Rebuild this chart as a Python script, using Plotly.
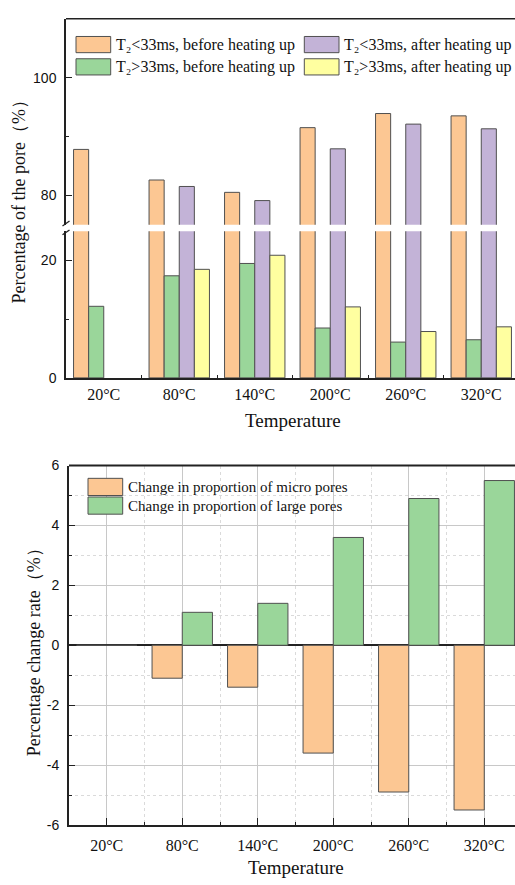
import plotly.graph_objects as go

# ---------------- data ----------------
categories = ["20°C", "80°C", "140°C", "200°C", "260°C", "320°C"]
t2_small_before = [87.8, 82.6, 80.5, 91.5, 93.9, 93.5]
t2_large_before = [12.2, 17.4, 19.5, 8.5, 6.1, 6.5]
t2_small_after = [None, 81.5, 79.1, 87.9, 92.1, 91.3]
t2_large_after = [None, 18.5, 20.9, 12.1, 7.9, 8.7]
micro_change = [0, -1.1, -1.4, -3.6, -4.9, -5.5]
large_change = [0, 1.1, 1.4, 3.6, 4.9, 5.5]
y3_ticks = [-6, -4, -2, 0, 2, 4, 6]

top_names = [
    "T₂&lt;33ms, before heating up",
    "T₂&gt;33ms, before heating up",
    "T₂&lt;33ms, after heating up",
    "T₂&gt;33ms, after heating up",
]
bottom_names = [
    "Change in proportion of micro pores",
    "Change in proportion of large pores",
]

# ---------------- style ----------------
W, H = 515, 885
ORANGE = "#FCC793"
GREEN = "#9AD69A"
PURPLE = "#C3B3D7"
YELLOW = "#FFFFA0"
EDGE = "#505050"
AX = "#222222"
SERIF = "Liberation Serif"
SANS = "Liberation Sans"


def px(x):
    return x / W


def py(y):
    return 1 - y / H


xs = list(range(len(categories)))
bounds = [i + 0.5 for i in xs[:-1]]

fig = go.Figure()

top_series = [
    (top_names[0], t2_small_before, ORANGE),
    (top_names[1], t2_large_before, GREEN),
    (top_names[2], t2_small_after, PURPLE),
    (top_names[3], t2_large_after, YELLOW),
]
for yax in ["y", "y2"]:
    for name, vals, col in top_series:
        fig.add_trace(go.Bar(
            x=xs, y=vals, xaxis="x", yaxis=yax, name=name, showlegend=False,
            marker=dict(color=col, line=dict(color=EDGE, width=1)),
        ))

for name, vals, col in [(bottom_names[0], micro_change, ORANGE),
                        (bottom_names[1], large_change, GREEN)]:
    fig.add_trace(go.Bar(
        x=xs, y=vals, xaxis="x2", yaxis="y3", name=name, showlegend=False,
        marker=dict(color=col, line=dict(color=EDGE, width=1)),
    ))

num_font = dict(family=SANS, size=14, color="#111")
cat_font = dict(family=SERIF, size=16, color="#111")

fig.update_layout(
    width=W, height=H,
    margin=dict(l=0, r=0, t=0, b=0),
    paper_bgcolor="white", plot_bgcolor="white",
    showlegend=False,
    barmode="group", bargap=0.2, bargroupgap=0,
    xaxis=dict(
        domain=[px(66), 1], range=[-0.5, -0.5 + 449 / 75.5], anchor="y",
        tickmode="array", tickvals=xs, ticktext=categories, ticks="",
        showline=True, linecolor=AX, linewidth=1.5, showgrid=False, zeroline=False,
        tickfont=cat_font, ticklabelstandoff=1,
        minor=dict(tickmode="array", tickvals=bounds, ticks="inside", ticklen=3,
                   tickcolor=AX, tickwidth=1, showgrid=False),
    ),
    yaxis=dict(
        domain=[py(376.7), py(227.3)], range=[0, 25], anchor="x",
        tickmode="array", tickvals=[0, 20], ticks="inside", ticklen=6,
        tickcolor=AX, showline=True, linecolor=AX, linewidth=1.5,
        showgrid=False, zeroline=False, tickfont=num_font, ticklabelstandoff=5,
        minor=dict(tickmode="array", tickvals=[10], ticks="inside", ticklen=3,
                   tickcolor=AX, showgrid=False),
    ),
    yaxis2=dict(
        domain=[py(220.7), py(11)], range=[75, 110], anchor="x",
        tickmode="array", tickvals=[80, 100], ticks="inside", ticklen=6,
        tickcolor=AX, showline=True, linecolor=AX, linewidth=1.5,
        showgrid=False, zeroline=False, tickfont=num_font, ticklabelstandoff=5,
        minor=dict(tickmode="array", tickvals=[90], ticks="inside", ticklen=3,
                   tickcolor=AX, showgrid=False),
    ),
    xaxis2=dict(
        domain=[px(69), 1], range=[-0.5, -0.5 + 446 / 75.5], anchor="y3",
        tickmode="array", tickvals=xs, ticktext=categories, ticks="inside",
        ticklen=7, tickcolor=AX, tickwidth=1,
        showline=True, linecolor=AX, linewidth=2,
        showgrid=True, gridcolor="#c8c8c8", gridwidth=1, zeroline=False,
        tickfont=cat_font, ticklabelstandoff=5,
        minor=dict(tickmode="array", tickvals=bounds, ticks="inside", ticklen=3,
                   tickcolor=AX, showgrid=True, gridcolor="#dadada", griddash="dot"),
    ),
    yaxis3=dict(
        domain=[py(832), py(466)], range=[-6, 6], anchor="x2",
        tickmode="array", tickvals=y3_ticks, ticktext=[str(v) for v in y3_ticks],
        ticks="inside", ticklen=6, tickcolor=AX, ticklabelstandoff=5,
        showline=True, linecolor=AX, linewidth=2,
        showgrid=True, gridcolor="#c8c8c8", gridwidth=1,
        zeroline=True, zerolinecolor="#222", zerolinewidth=2,
        tickfont=num_font,
        minor=dict(dtick=1, tick0=0, ticks="inside", ticklen=3, tickcolor=AX,
                   showgrid=True, gridcolor="#dadada", griddash="dot"),
    ),
)

shapes = []
# frame top lines
shapes.append(dict(type="line", xref="x domain", yref="y2 domain", x0=0, x1=1, y0=1, y1=1,
                   line=dict(color=AX, width=1.5)))
shapes.append(dict(type="line", xref="x2 domain", yref="y3 domain", x0=0, x1=1, y0=1, y1=1,
                   line=dict(color=AX, width=2)))
# axis break marks
for yb in (219.5, 228.5):
    shapes.append(dict(type="line", xref="paper", yref="paper",
                       x0=px(62.5), x1=px(69.5), y0=py(yb + 2.5), y1=py(yb - 2.5),
                       line=dict(color=AX, width=1.3)))

annotations = []
# top legend
leg_top = [
    (top_names[0], ORANGE, 76, 29),
    (top_names[2], PURPLE, 304.3, 29),
    (top_names[1], GREEN, 76, 51.7),
    (top_names[3], YELLOW, 304.3, 51.7),
]
for name, col, x0, y0 in leg_top:
    shapes.append(dict(type="rect", xref="paper", yref="paper",
                       x0=px(x0), x1=px(x0 + 34.7), y0=py(y0 + 16.5), y1=py(y0),
                       fillcolor=col, line=dict(color=EDGE, width=1)))
    annotations.append(dict(xref="paper", yref="paper", x=px(x0 + 37.5), y=py(y0 + 8.3),
                            text=name, showarrow=False, xanchor="left", yanchor="middle",
                            font=dict(family=SERIF, size=16, color="#111")))
# bottom legend
for name, col, y0 in [(bottom_names[0], ORANGE, 479), (bottom_names[1], GREEN, 498)]:
    shapes.append(dict(type="rect", xref="paper", yref="paper",
                       x0=px(88), x1=px(122.7), y0=py(y0 + 17.5), y1=py(y0),
                       fillcolor=col, line=dict(color=EDGE, width=1)))
    annotations.append(dict(xref="paper", yref="paper", x=px(125.5), y=py(y0 + 9),
                            text=name, showarrow=False, xanchor="left", yanchor="middle",
                            font=dict(family=SERIF, size=15, color="#111")))

# axis titles
title_font = dict(family=SERIF, size=19, color="#111")
ytitle_font = dict(family=SERIF, size=18, color="#111")
annotations += [
    dict(xref="paper", yref="paper", x=px(292.5), y=py(420), text="Temperature",
         showarrow=False, xanchor="center", yanchor="middle", font=title_font),
    dict(xref="paper", yref="paper", x=px(295.5), y=py(875), text="Temperature",
         showarrow=False, xanchor="center", yanchor="middle", font=title_font),
    dict(xref="paper", yref="paper", x=px(19), y=py(193), text="Percentage of the pore（%）",
         showarrow=False, xanchor="center", yanchor="middle", textangle=-90,
         font=ytitle_font),
    dict(xref="paper", yref="paper", x=px(34), y=py(652), text="Percentage change rate（%）",
         showarrow=False, xanchor="center", yanchor="middle", textangle=-90,
         font=ytitle_font),
]

fig.update_layout(shapes=shapes, annotations=annotations)
fig.write_html("out.html")
